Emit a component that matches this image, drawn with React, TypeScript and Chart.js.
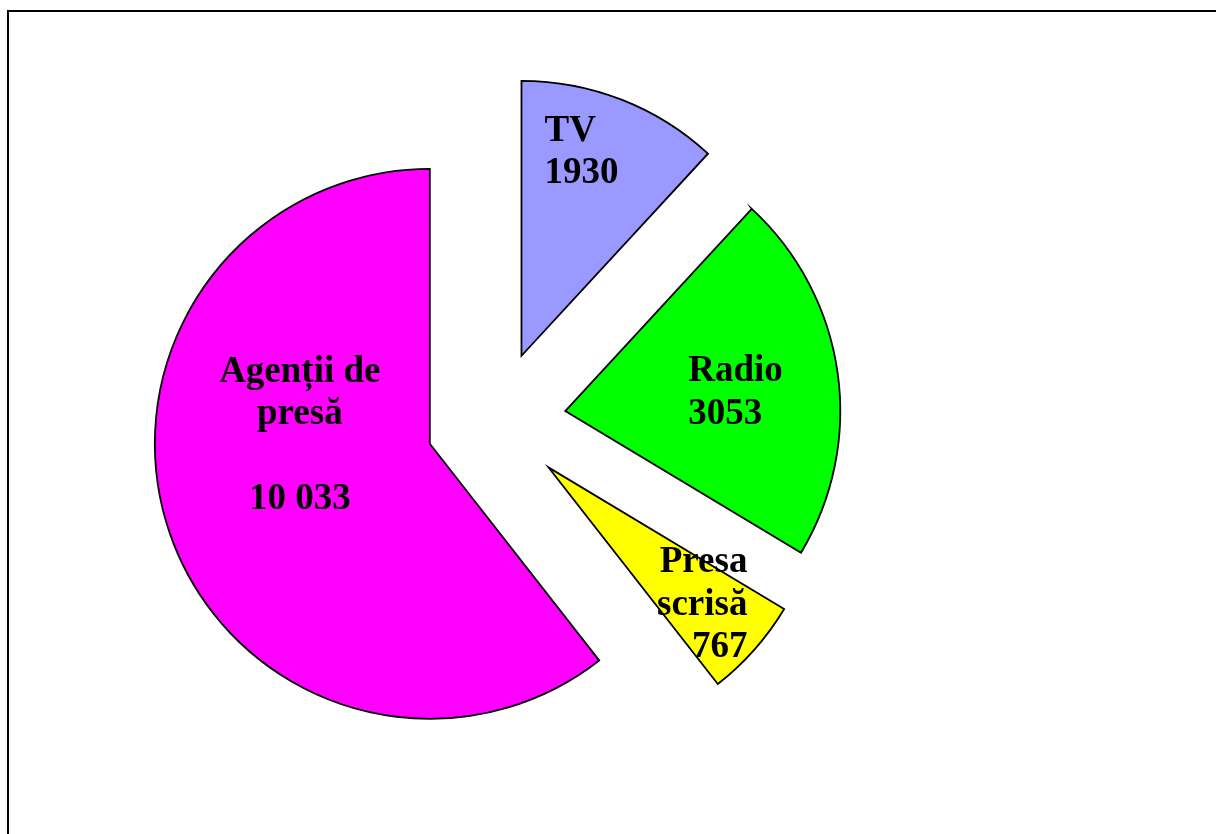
import React, { useEffect, useRef } from "react";
import { Chart, registerables } from "chart.js";

Chart.register(...registerables);

// Categories, clockwise from 12 o'clock
const categories = ["TV", "Radio", "Presa scrisă", "Agenții de presă"];
// Share of the circle (percent)
const sliceShares = [11.86, 21.75, 5.83, 60.56];
// Printed values on the labels
const printedValues = ["1930", "3053", "767", "10 033"];
// Label lines (name lines, then value)
const labelNameLines = [["TV"], ["Radio"], ["Presa", "scrisă"], ["Agenții de", "presă", ""]];
const sliceColors = ["#9999FF", "#00FF00", "#FFFF00", "#FF00FF"];

// Styling: explode distance and label placement relative to each slice's center
const EXPLODE = 70;
const RADIUS = 275;
const FONT = 'bold 37px "Liberation Serif", "Times New Roman", serif';
const LINE_H = 42.5;
const labelPlacement = [
  { align: "left", dx: 23, dy: -215 },
  { align: "left", dx: 123, dy: -30 },
  { align: "right", dx: 199, dy: 105 },
  { align: "center", dx: -130, dy: -62 },
];

const explodePlugin = {
  id: "explodeSlices",
  afterDatasetUpdate(chart: any, args: any) {
    const meta = chart.getDatasetMeta(args.index);
    const ca = chart.chartArea;
    const cx = (ca.left + ca.right) / 2;
    const cy = (ca.top + ca.bottom) / 2;
    meta.data.forEach((el: any) => {
      const mid = (el.startAngle + el.endAngle) / 2;
      el.x = cx + Math.cos(mid) * EXPLODE;
      el.y = cy + Math.sin(mid) * EXPLODE;
    });
  },
};

const labelPlugin = {
  id: "sliceLabels",
  afterDatasetsDraw(chart: any) {
    const ctx = chart.ctx;
    const meta = chart.getDatasetMeta(0);
    ctx.save();
    ctx.font = FONT;
    ctx.fillStyle = "#000";
    ctx.textBaseline = "alphabetic";
    meta.data.forEach((el: any, i: number) => {
      const p = labelPlacement[i];
      const lines = [...labelNameLines[i], printedValues[i]];
      ctx.textAlign = p.align;
      lines.forEach((line: string, j: number) => {
        if (line) ctx.fillText(line, el.x + p.dx, el.y + p.dy + j * LINE_H);
      });
    });
    ctx.restore();
  },
};

export default function App() {
  const canvasRef = useRef<HTMLCanvasElement | null>(null);

  useEffect(() => {
    const canvas = canvasRef.current;
    if (!canvas) return;
    const chart = new Chart(canvas, {
      type: "pie",
      data: {
        labels: categories,
        datasets: [
          {
            data: sliceShares,
            backgroundColor: sliceColors,
            borderColor: "#000000",
            borderWidth: 1.8,
            borderJoinStyle: "miter",
          } as any,
        ],
      },
      options: {
        animation: false,
        responsive: true,
        maintainAspectRatio: false,
        radius: RADIUS,
        layout: { padding: { left: 0, right: 224, top: 8, bottom: 0 } },
        plugins: {
          legend: { display: false },
          tooltip: { enabled: false },
          title: { display: false },
        },
        events: [],
      } as any,
      plugins: [explodePlugin, labelPlugin],
    });
    return () => chart.destroy();
  }, []);

  return (
    <div style={{ position: "fixed", left: 0, top: 0, width: 1216, height: 834, background: "#fff", overflow: "hidden" }}>
      <canvas ref={canvasRef} style={{ width: "100%", height: "100%" }} />
      <div
        style={{
          position: "absolute",
          left: 7,
          top: 10,
          width: 1400,
          height: 1000,
          borderLeft: "2px solid #000",
          borderTop: "2px solid #000",
          pointerEvents: "none",
        }}
      />
    </div>
  );
}
